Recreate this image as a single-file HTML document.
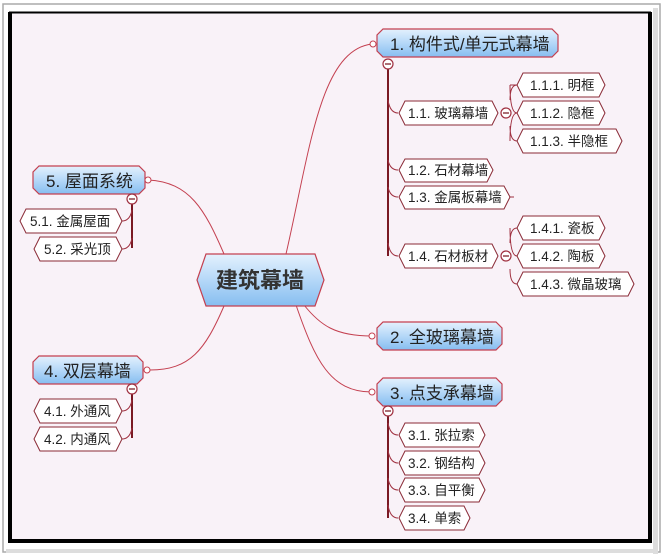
<!DOCTYPE html>
<html><head><meta charset="utf-8"><style>
html,body{margin:0;padding:0;background:#fff;width:664px;height:560px;overflow:hidden}
svg{display:block}
text{font-family:"Liberation Sans","Noto Sans CJK SC",sans-serif;fill:#222}
.c{font-size:13.5px}
.p{font-size:17px}
</style></head><body>
<svg width="664" height="560" viewBox="0 0 664 560" xmlns="http://www.w3.org/2000/svg">
<defs>
<linearGradient id="g" x1="0" y1="0" x2="0" y2="1">
<stop offset="0" stop-color="#e4f1fd"/><stop offset="0.5" stop-color="#b5d8f8"/><stop offset="1" stop-color="#86bdf0"/>
</linearGradient>
</defs>
<rect x="3" y="4" width="657" height="548" fill="#fff" stroke="#aaa" stroke-width="1.5"/>
<rect x="653" y="8" width="5" height="546" fill="#ddd"/>
<rect x="6" y="549" width="652" height="4" fill="#ddd"/>
<rect x="10" y="12.5" width="640" height="529" fill="#f9f2f8" stroke="#000" stroke-width="2"/>
<rect x="8" y="12" width="4" height="531" fill="#000"/>
<rect x="648" y="12" width="4" height="531" fill="#000"/>
<rect x="8" y="539" width="644" height="4" fill="#000"/>

<g fill="none" stroke="#c44050" stroke-width="1">
<path d="M286 254 C 310 150, 320 50, 372 44"/>
<path d="M224 254 C 205 210, 190 182, 148 180"/>
<path d="M224 306 C 205 350, 190 370, 150 370"/>
<path d="M304 305 C 320 325, 335 336, 372 336"/>
<path d="M296 305 C 315 360, 330 392, 372 392"/>
</g>
<g fill="none" stroke="#7a1a24" stroke-width="2">
<path d="M388 69 V256"/>
<path d="M388 411 V518"/>
<path d="M132 204 V248"/>
<path d="M132 394 V438"/>
</g>
<g fill="none" stroke="#a03040" stroke-width="1">
<path d="M388 100 Q390 113 398 113"/>
<path d="M388 160 Q390 170 398 170"/>
<path d="M388 187 Q390 197 398 197"/>
<path d="M388 243 Q390 256 398 256"/>
<path d="M510 85 Q510 113 517 113 M510 85 Q510 85 517 85 M510 141 Q510 113 517 113 M517 85 Q510 85 510 100 M510 126 Q510 141 517 141"/>
<path d="M510 228 Q510 256 517 256 M517 228 Q510 228 510 243 M510 269 Q510 284 517 284"/>
<path d="M388 423 Q390 435 398 435"/>
<path d="M388 450 Q390 463 398 463"/>
<path d="M388 478 Q390 490 398 490"/>
<path d="M388 505 Q390 518 398 518"/>
<path d="M132 210 Q130 221 122 221 M132 238 Q130 249 122 249"/>
<path d="M132 400 Q130 411 122 411 M132 428 Q130 439 122 439"/>
<path d="M510 197 H514"/>
</g>

<polygon points="206,254 315,254 324,280 315,306 206,306 197,280" fill="url(#g)" stroke="#c44050" stroke-width="1.2"/>
<text x="260" y="288" text-anchor="middle" style="font-size:22px;font-weight:bold;fill:#333">建筑幕墙</text>

<g fill="url(#g)" stroke="#c44050" stroke-width="1.2">
<polygon points="383,29 552,29 558,35 558,51 552,57 383,57 377,51 377,35"/>
<polygon points="383,322 496,322 502,328 502,344 496,350 383,350 377,344 377,328"/>
<polygon points="383,378 496,378 502,384 502,400 496,406 383,406 377,400 377,384"/>
<polygon points="39,166 139,166 145,172 145,188 139,194 39,194 33,188 33,172"/>
<polygon points="39,356 137,356 143,362 143,378 137,384 39,384 33,378 33,362"/>
</g>
<text class="p" x="390" y="50">1. 构件式/单元式幕墙</text>
<text class="p" x="390" y="343">2. 全玻璃幕墙</text>
<text class="p" x="390" y="399">3. 点支承幕墙</text>
<text class="p" x="46" y="187">5. 屋面系统</text>
<text class="p" x="44" y="377">4. 双层幕墙</text>

<g fill="#fff" stroke="#c44050" stroke-width="1">
<circle cx="373" cy="44" r="3"/>
<circle cx="372" cy="336" r="3"/>
<circle cx="372" cy="392" r="3"/>
<circle cx="148" cy="180" r="3"/>
<circle cx="147" cy="370" r="3"/>
</g>
<g fill="#fff" stroke="#a03040" stroke-width="1.2">
<circle cx="388" cy="64" r="5"/>
<circle cx="388" cy="411" r="5"/>
<circle cx="132" cy="199" r="5"/>
<circle cx="132" cy="389" r="5"/>
<circle cx="506" cy="113" r="5"/>
<circle cx="506" cy="256" r="5"/>
</g>
<g stroke="#7a1a24" stroke-width="1.2">
<path d="M385 64 H391 M385 411 H391 M129 199 H135 M129 389 H135 M503 113 H509 M503 256 H509"/>
</g>

<g fill="#fff" stroke="#8a2a36" stroke-width="1">
<polygon points="405,101 492,101 498,113 492,125 405,125 399,113"/>
<polygon points="405,159 487,159 493,170 487,182 405,182 399,170"/>
<polygon points="405,186 504,186 510,197 504,209 405,209 399,197"/>
<polygon points="405,244 492,244 498,256 492,268 405,268 399,256"/>
<polygon points="523,73 599,73 605,85 599,97 523,97 517,85"/>
<polygon points="523,101 599,101 605,113 599,125 523,125 517,113"/>
<polygon points="523,129 616,129 622,141 616,153 523,153 517,141"/>
<polygon points="523,216 599,216 605,228 599,240 523,240 517,228"/>
<polygon points="523,244 599,244 605,256 599,268 523,268 517,256"/>
<polygon points="523,272 628,272 634,284 628,296 523,296 517,284"/>
<polygon points="405,423 479,423 485,435 479,447 405,447 399,435"/>
<polygon points="405,451 479,451 485,463 479,475 405,475 399,463"/>
<polygon points="405,478 479,478 485,490 479,502 405,502 399,490"/>
<polygon points="405,506 464,506 470,518 464,530 405,530 399,518"/>
<polygon points="26,209 116,209 122,221 116,233 26,233 20,221"/>
<polygon points="40,237 116,237 122,249 116,261 40,261 34,249"/>
<polygon points="40,399 116,399 122,411 116,423 40,423 34,411"/>
<polygon points="40,427 116,427 122,439 116,451 40,451 34,439"/>
</g>
<g>
<text class="c" x="408" y="118">1.1. 玻璃幕墙</text>
<text class="c" x="408" y="175">1.2. 石材幕墙</text>
<text class="c" x="408" y="202">1.3. 金属板幕墙</text>
<text class="c" x="408" y="261">1.4. 石材板材</text>
<text class="c" x="530" y="90">1.1.1. 明框</text>
<text class="c" x="530" y="118">1.1.2. 隐框</text>
<text class="c" x="530" y="146">1.1.3. 半隐框</text>
<text class="c" x="530" y="233">1.4.1. 瓷板</text>
<text class="c" x="530" y="261">1.4.2. 陶板</text>
<text class="c" x="530" y="289">1.4.3. 微晶玻璃</text>
<text class="c" x="408" y="440">3.1. 张拉索</text>
<text class="c" x="408" y="468">3.2. 钢结构</text>
<text class="c" x="408" y="495">3.3. 自平衡</text>
<text class="c" x="408" y="523">3.4. 单索</text>
<text class="c" x="30" y="226">5.1. 金属屋面</text>
<text class="c" x="44" y="254">5.2. 采光顶</text>
<text class="c" x="44" y="416">4.1. 外通风</text>
<text class="c" x="44" y="444">4.2. 内通风</text>
</g>
</svg>
</body></html>
